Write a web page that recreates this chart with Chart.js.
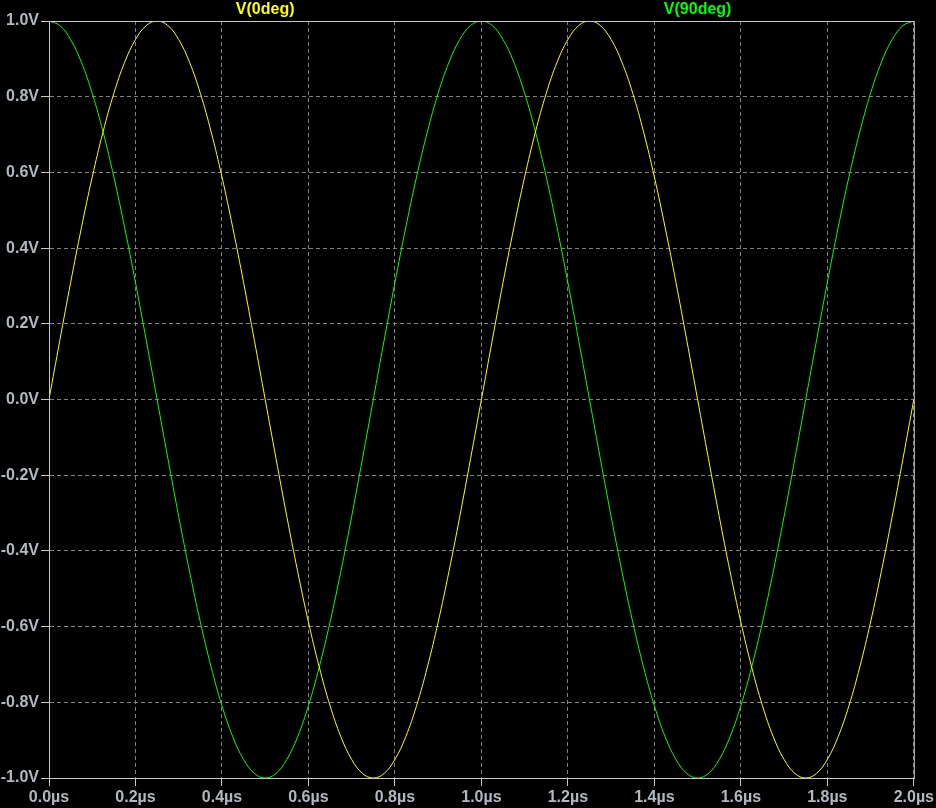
<!DOCTYPE html>
<html>
<head>
<meta charset="utf-8">
<script src="https://cdn.jsdelivr.net/npm/chart.js@4"></script>
<style>
  body { margin: 0; background: #000; }
  #wrap { width: 936px; height: 808px; position: relative; }
</style>
</head>
<body>
<div id="wrap"><canvas id="lineChart"></canvas></div>
<script>
// time in microseconds, 0.025us per sample
var timeUs = [
  0.000, 0.025, 0.050, 0.075, 0.100, 0.125, 0.150, 0.175, 0.200, 0.225,
  0.250, 0.275, 0.300, 0.325, 0.350, 0.375, 0.400, 0.425, 0.450, 0.475,
  0.500, 0.525, 0.550, 0.575, 0.600, 0.625, 0.650, 0.675, 0.700, 0.725,
  0.750, 0.775, 0.800, 0.825, 0.850, 0.875, 0.900, 0.925, 0.950, 0.975,
  1.000, 1.025, 1.050, 1.075, 1.100, 1.125, 1.150, 1.175, 1.200, 1.225,
  1.250, 1.275, 1.300, 1.325, 1.350, 1.375, 1.400, 1.425, 1.450, 1.475,
  1.500, 1.525, 1.550, 1.575, 1.600, 1.625, 1.650, 1.675, 1.700, 1.725,
  1.750, 1.775, 1.800, 1.825, 1.850, 1.875, 1.900, 1.925, 1.950, 1.975,
  2.000
];

var v0deg = [
  0.000, 0.156, 0.309, 0.454, 0.588, 0.707, 0.809, 0.891, 0.951, 0.988,
  1.000, 0.988, 0.951, 0.891, 0.809, 0.707, 0.588, 0.454, 0.309, 0.156,
  0.000, -0.156, -0.309, -0.454, -0.588, -0.707, -0.809, -0.891, -0.951, -0.988,
  -1.000, -0.988, -0.951, -0.891, -0.809, -0.707, -0.588, -0.454, -0.309, -0.156,
  0.000, 0.156, 0.309, 0.454, 0.588, 0.707, 0.809, 0.891, 0.951, 0.988,
  1.000, 0.988, 0.951, 0.891, 0.809, 0.707, 0.588, 0.454, 0.309, 0.156,
  0.000, -0.156, -0.309, -0.454, -0.588, -0.707, -0.809, -0.891, -0.951, -0.988,
  -1.000, -0.988, -0.951, -0.891, -0.809, -0.707, -0.588, -0.454, -0.309, -0.156,
  0.000
];

var v90deg = [
  1.000, 0.988, 0.951, 0.891, 0.809, 0.707, 0.588, 0.454, 0.309, 0.156,
  0.000, -0.156, -0.309, -0.454, -0.588, -0.707, -0.809, -0.891, -0.951, -0.988,
  -1.000, -0.988, -0.951, -0.891, -0.809, -0.707, -0.588, -0.454, -0.309, -0.156,
  0.000, 0.156, 0.309, 0.454, 0.588, 0.707, 0.809, 0.891, 0.951, 0.988,
  1.000, 0.988, 0.951, 0.891, 0.809, 0.707, 0.588, 0.454, 0.309, 0.156,
  0.000, -0.156, -0.309, -0.454, -0.588, -0.707, -0.809, -0.891, -0.951, -0.988,
  -1.000, -0.988, -0.951, -0.891, -0.809, -0.707, -0.588, -0.454, -0.309, -0.156,
  0.000, 0.156, 0.309, 0.454, 0.588, 0.707, 0.809, 0.891, 0.951, 0.988,
  1.000
];

var xTickLabels = ['0.0µs', '0.2µs', '0.4µs', '0.6µs', '0.8µs', '1.0µs',
  '1.2µs', '1.4µs', '1.6µs', '1.8µs', '2.0µs'];
var yTickLabels = ['-1.0V', '-0.8V', '-0.6V', '-0.4V', '-0.2V', '0.0V',
  '0.2V', '0.4V', '0.6V', '0.8V', '1.0V'];

function toPoints(ys) {
  return timeUs.map(function (t, i) { return { x: t, y: ys[i] }; });
}

var tickFont = { family: 'Liberation Sans, Arial, sans-serif', size: 16, weight: 'bold' };

// frame + trace names above the plot, LTspice style
var plotDecor = {
  id: 'plotDecor',
  beforeDraw: function (chart) {
    var ctx = chart.ctx;
    ctx.save();
    ctx.fillStyle = '#000';
    ctx.fillRect(0, 0, chart.width, chart.height);
    ctx.restore();
  },
  afterDraw: function (chart) {
    var ctx = chart.ctx, a = chart.chartArea;
    ctx.save();
    ctx.strokeStyle = '#c8c8c8';
    ctx.lineWidth = 1;
    ctx.strokeRect(a.left + 0.5, a.top + 0.5, a.right - a.left, a.bottom - a.top);
    ctx.font = 'bold 16px Liberation Sans, Arial, sans-serif';
    ctx.textAlign = 'center';
    ctx.textBaseline = 'middle';
    var n = chart.data.datasets.length;
    chart.data.datasets.forEach(function (ds, i) {
      ctx.fillStyle = ds.borderColor;
      ctx.fillText(ds.label, a.left + (a.right - a.left) * (2 * i + 1) / (2 * n), 10);
    });
    ctx.restore();
  }
};

var config = {
  type: 'line',
  data: {
    datasets: [{
      label: 'V(0deg)',
      borderColor: '#ffff00',
      data: toPoints(v0deg),
    }, {
      label: 'V(90deg)',
      borderColor: '#00ff00',
      data: toPoints(v90deg),
    }]
  },
  options: {
    responsive: true,
    maintainAspectRatio: false,
    animation: false,
    layout: { padding: { top: 21, right: 20, left: 0, bottom: 0 } },
    elements: {
      point: { radius: 0 },
      line: { borderWidth: 1, tension: 0.4 }
    },
    plugins: {
      legend: { display: false },
      tooltip: { enabled: false }
    },
    scales: {
      x: {
        type: 'linear',
        min: 0,
        max: 2,
        afterFit: function (s) { s.height = 30; },
        ticks: {
          stepSize: 0.2,
          color: '#b0b8c0',
          font: tickFont,
          padding: 2,
          maxRotation: 0,
          autoSkip: false,
          callback: function (v, i) { return xTickLabels[i]; }
        },
        grid: {
          color: '#808080',
          tickColor: '#c8c8c8',
          tickLength: 8,
          tickBorderDash: [1, 0]
        },
        border: { color: '#c8c8c8', dash: [4, 3] }
      },
      y: {
        min: -1,
        max: 1,
        afterFit: function (s) { s.width = 49; },
        ticks: {
          stepSize: 0.2,
          color: '#b0b8c0',
          font: tickFont,
          padding: 2,
          autoSkip: false,
          callback: function (v, i) { return yTickLabels[i]; }
        },
        grid: {
          color: '#808080',
          tickColor: '#c8c8c8',
          tickLength: 8,
          tickBorderDash: [1, 0]
        },
        border: { color: '#c8c8c8', dash: [4, 3] }
      }
    }
  },
  plugins: [plotDecor]
};

var lineChart = new Chart(document.getElementById('lineChart'), config);
</script>
</body>
</html>
